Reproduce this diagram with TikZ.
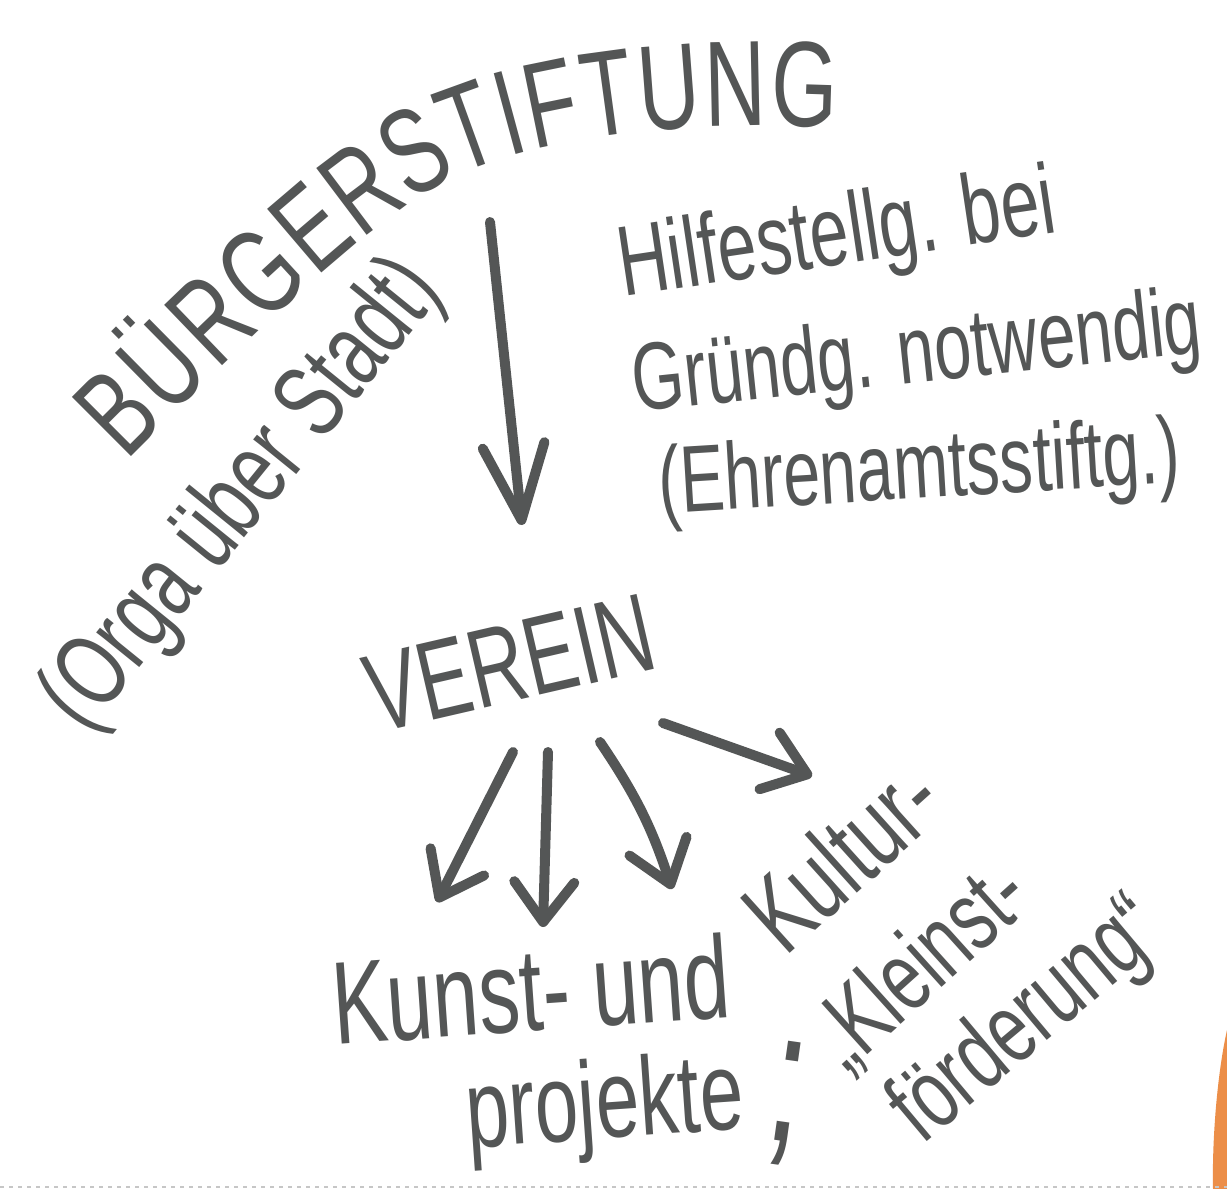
\documentclass[tikz,border=0pt]{standalone}
\usepackage{fontspec}
\setmainfont{Liberation Sans}
\newfontfamily\hand[FakeStretch=0.7]{Liberation Sans}
\newcommand\handsz[1]{\hand\fontsize{#1}{#1}\selectfont}
\usetikzlibrary{arrows.meta,decorations.text}
\definecolor{ink}{RGB}{84,86,86}
\definecolor{marker}{RGB}{236,142,72}
\begin{document}
\begin{tikzpicture}[x=1bp,y=-1bp,
  handtext/.style={inner sep=0pt, text=ink},
  harrow/.style={draw=ink, line width=10bp, line cap=round, line join=round,
    -{Straight Barb[length=40bp, width=60bp, line cap=round, line join=round]}},
  mainarrow/.style={draw=ink, line width=10bp, line cap=round, line join=round,
    -{Straight Barb[length=75bp, width=62bp, line cap=round, line join=round]}}]
\fill[white] (0,0) rectangle (1227,1189);
\useasboundingbox (0,0) rectangle (1227,1189);

% title along a curve
\path[decorate, decoration={text along path, text={|\handsz{122}|BÜRGERSTIFTUNG},
    text align=fit to path, raise=-44bp, text color=ink}]
  (95,430) .. controls (210,315) and (340,185) .. (430,140)
  .. controls (510,100) and (660,74) .. (838,84);

\node[handtext, font=\handsz{105}, rotate=51] (orga) at (244,496) {(Orga über Stadt)};

\node[handtext, font=\handsz{100}, rotate=8.5, anchor=base west] (hilfe1) at (623,297) {Hilfestellg. bei};
\node[handtext, font=\handsz{96}, rotate=6, anchor=base west] (hilfe2) at (635,412) {Gründg. notwendig};
\node[handtext, font=\handsz{95}, rotate=3.5, anchor=base west] (hilfe3) at (660,514) {(Ehrenamtsstiftg.)};

\node[handtext, font=\handsz{112}, rotate=13] (verein) at (510,663) {VEREIN};

\node[handtext, font=\handsz{118}, rotate=4, anchor=base west] (kunst) at (335,1045) {Kunst- und};
\node[handtext, font=\handsz{108}, rotate=42, anchor=base west] (kultur) at (785,958) {Kultur-};
\node[handtext, font=\handsz{112}, rotate=4, anchor=base west] (projekte) at (468,1148) {projekte};
\node[handtext, font=\handsz{190}, rotate=-8] (semi) at (786,1104) {;};
\node[handtext, font=\handsz{100}, rotate=42, anchor=base west] (kleinst) at (846,1074) {„Kleinst-};
\node[handtext, font=\handsz{100}, rotate=40, anchor=base west] (foerd) at (922,1146) {förderung“};

% connectors
\coordinate (stiftout) at (490,222);
\coordinate (vereinin) at (522,525);
\draw[mainarrow] (stiftout) -- (vereinin);

\coordinate (a1s) at (513,752); \coordinate (a1e) at (437,902);
\coordinate (a2s) at (548,752); \coordinate (a2e) at (543,927);
\coordinate (a3s) at (600,742); \coordinate (a3e) at (672,889);
\coordinate (a4s) at (663,723); \coordinate (a4e) at (812,776);
\draw[harrow] (a1s) -- (a1e);
\draw[harrow] (a2s) -- (a2e);
\draw[harrow] (a3s) to[bend left=8] (a3e);
\draw[harrow] (a4s) -- (a4e);

% orange edge of another sheet and perforation line
\fill[marker] (1227,1030) .. controls (1217,1075) and (1212,1140) .. (1213,1189) -- (1227,1189) -- cycle;
\draw[gray!45, line width=1.2bp, dash pattern=on 4bp off 5bp] (0,1187) -- (1227,1187);
\end{tikzpicture}
\end{document}
